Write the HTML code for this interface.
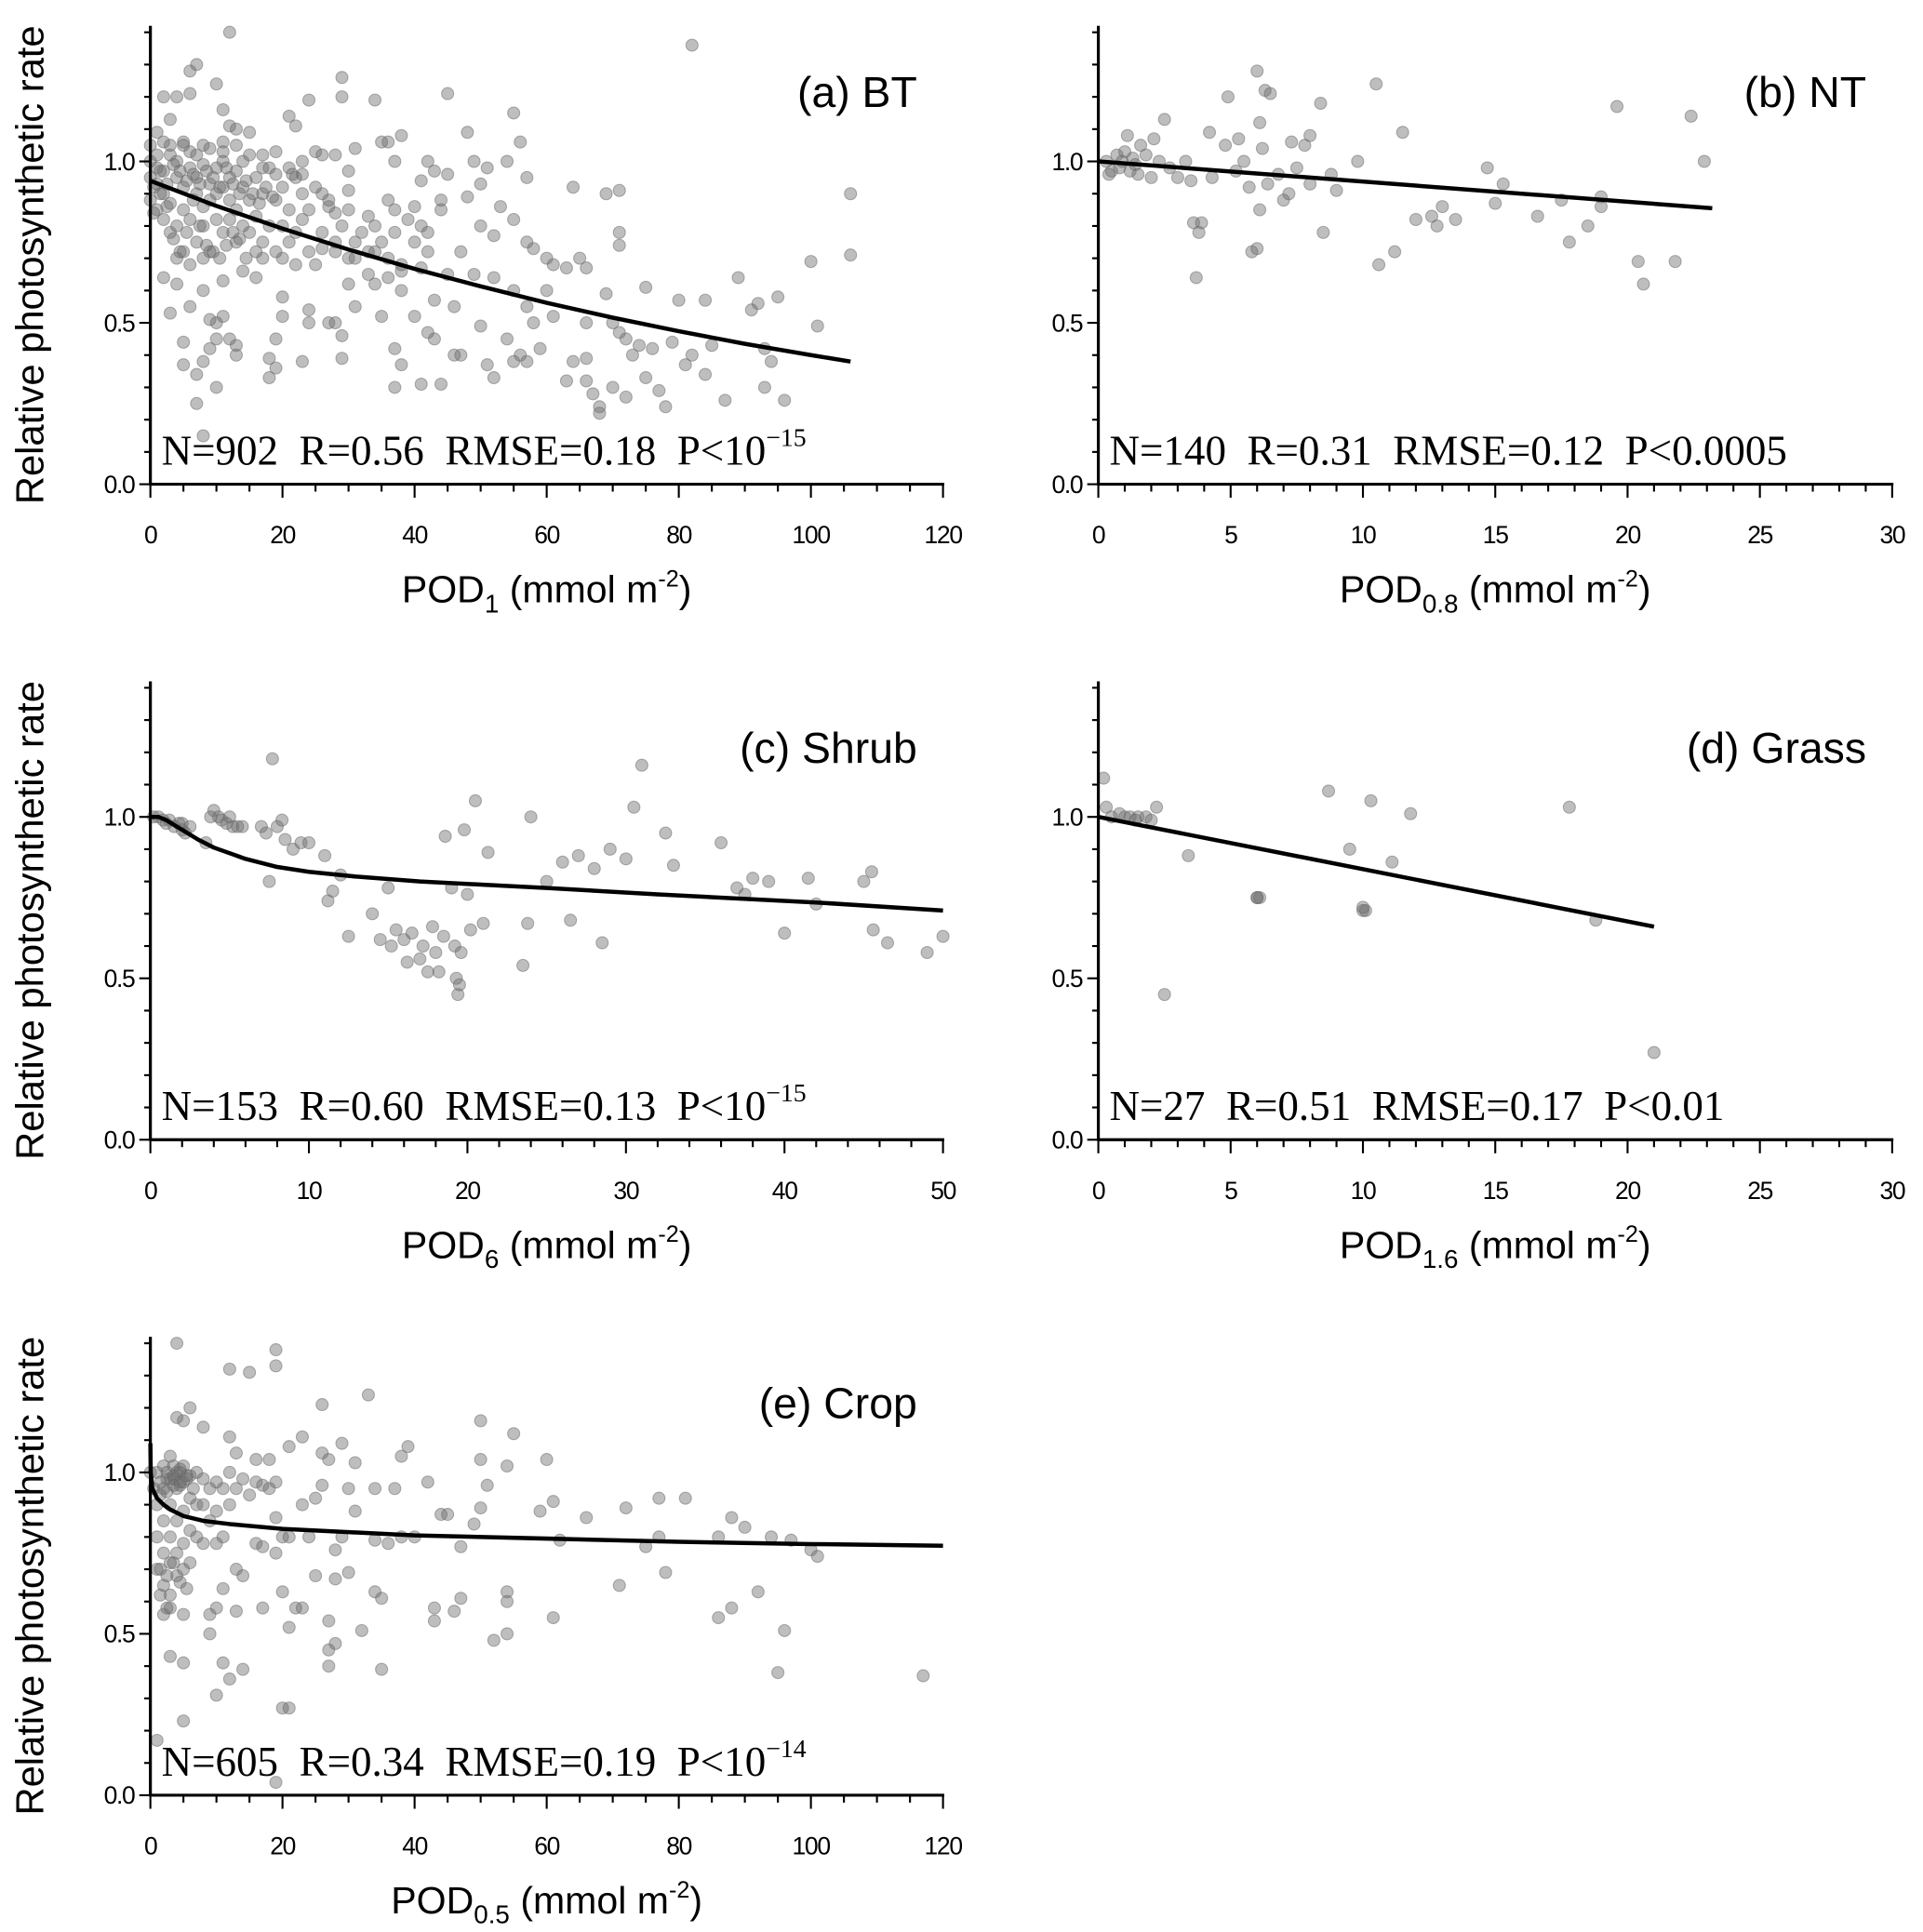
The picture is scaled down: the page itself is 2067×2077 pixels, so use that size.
<!DOCTYPE html>
<html><head><meta charset="utf-8"><style>
html,body{margin:0;padding:0;background:#fff;}
svg{display:block;}
</style></head><body>
<svg id="fig" width="2067" height="2077" viewBox="0 0 1560 1568" preserveAspectRatio="none" xmlns="http://www.w3.org/2000/svg"></svg>
<script>
const NS='http://www.w3.org/2000/svg';
// ---- data arrays ----
const aX=[12,82,6,7,10,2,4,6,29,29,45,24,34,3,11,21,22,12,13,15,55,56,48,38,35,36,31,25,26,28,1,2,5,8,11,17,19,23,37,42,43,49,51,54,57,50,45,30,30,41,64,71,69,106,48,53,36,37,40,44,44,27,28,33,55,50,52,57,58,60,61,63,65,66,71,71,100,106,89,75,69,60,55,57,58,61,66,70,71,72,74,73,76,79,80,84,85,91,92,95,101,93,94,93,96,87,84,82,81,78,77,75,72,70,68,68,67,66,63,64,66,59,56,57,54,55,50,51,52,47,46,43,42,41,38,37,37,44,43,46,40,35,34,31,30,29,29,27,28,24,24,23,20,20,19,19,18,18,12,13,13,11,10,10,9,9,8,7,7,8,10,5,5,3,4,6,8,2,11,14,16,17,20,22,25,26,30,33,36,38,41,42,45,47,49,52,0,0,1,1,2,2,3,3,4,4,5,5,6,6,7,7,8,8,9,9,10,10,11,11,12,12,13,13,14,14,15,15,16,16,17,17,18,18,19,19,20,20,21,21,22,22,23,23,24,25,26,27,28,29,30,31,32,33,34,35,36,37,38,39,40,41,42,3,5,7,9,11,13,1,2,4,6,8,10,12,14,16,6,4,8,3,5,7,9,11,13,15,17,19,21,23,1,0,0,0.5,1.5,2.5,3.5,4.5,5.5,6.5,7.5,8.5,9.5,10.5,11.5,12.5,13.5,14.5,15.5,16.5,17.5,18.5,0.5,1.5,2.5,3.5,4.5,5.5,6.5,7.5,8.5,9.5,10.5,11.5,12.5,13.5,14.5,21.5,24,26,28,31,34,38];
const aY=[1.4,1.36,1.28,1.3,1.24,1.2,1.2,1.21,1.26,1.2,1.21,1.19,1.19,1.13,1.16,1.14,1.11,1.11,1.1,1.09,1.15,1.06,1.09,1.08,1.06,1.06,1.04,1.03,1.02,1.02,1.09,1.06,1.06,1.05,1.06,1.02,1.03,1.0,1.0,1.0,0.97,1.0,0.98,1.0,0.95,0.93,0.96,0.97,0.91,0.94,0.92,0.91,0.9,0.9,0.89,0.86,0.88,0.85,0.86,0.85,0.88,0.86,0.84,0.83,0.82,0.8,0.77,0.75,0.73,0.7,0.68,0.67,0.7,0.67,0.78,0.74,0.69,0.71,0.64,0.61,0.59,0.6,0.6,0.55,0.5,0.52,0.5,0.5,0.47,0.45,0.43,0.4,0.42,0.44,0.57,0.57,0.43,0.54,0.56,0.58,0.49,0.42,0.38,0.3,0.26,0.26,0.34,0.4,0.37,0.24,0.29,0.33,0.27,0.3,0.24,0.22,0.28,0.32,0.32,0.38,0.39,0.42,0.4,0.38,0.45,0.38,0.49,0.37,0.33,0.4,0.4,0.45,0.47,0.31,0.37,0.42,0.3,0.31,0.57,0.55,0.52,0.52,0.62,0.55,0.62,0.46,0.39,0.5,0.5,0.5,0.54,0.38,0.52,0.58,0.45,0.36,0.39,0.33,0.45,0.43,0.4,0.52,0.45,0.5,0.51,0.42,0.38,0.34,0.25,0.15,0.3,0.44,0.37,0.53,0.62,0.55,0.6,0.64,0.63,0.66,0.64,0.7,0.7,0.68,0.68,0.73,0.7,0.65,0.64,0.6,0.67,0.72,0.65,0.72,0.65,0.64,1.0,0.95,0.98,0.93,0.97,0.9,1.02,0.87,0.95,1.0,0.92,0.85,0.98,1.03,0.9,0.95,0.99,0.8,0.93,0.88,0.98,0.82,0.92,1.0,0.95,0.88,0.97,0.85,0.92,1.0,0.88,0.78,0.95,0.83,0.9,0.75,0.98,0.8,0.88,0.72,0.92,0.8,0.85,0.75,0.95,0.78,0.9,0.82,0.85,0.92,0.78,0.88,0.75,0.8,0.85,0.75,0.78,0.72,0.8,0.75,0.7,0.78,0.68,0.82,0.75,0.8,0.78,0.78,0.72,0.75,0.72,0.78,0.75,0.85,0.82,0.8,0.82,0.86,0.9,0.82,0.8,0.72,0.68,0.7,0.7,1.05,1.05,1.02,1.04,1.03,1.05,1.02,0.98,0.96,0.98,0.96,1.02,0.88,1.05,0.92,0.97,0.93,0.99,0.97,0.94,0.96,0.93,0.97,0.95,0.92,0.98,0.93,0.9,0.94,0.9,0.87,0.92,0.89,0.84,0.9,0.86,0.76,0.72,0.78,0.88,0.8,0.74,0.72,0.7,0.74,0.78,0.76,0.7,0.96,0.72,0.9,0.72,0.7,0.72,0.66];
const bX=[0.3,0.5,0.7,0.8,1.0,1.1,1.2,1.3,1.4,1.6,1.8,2.0,2.1,0.4,0.9,1.5,2.3,2.5,2.7,3.0,3.3,3.5,3.6,3.8,3.9,3.7,4.2,4.3,4.8,4.9,5.3,5.2,5.5,5.7,5.8,6.0,6.0,6.1,6.2,6.3,6.5,6.1,6.4,6.8,7.0,7.3,7.5,7.8,8.0,8.0,8.4,8.5,8.8,9.0,9.8,10.5,10.6,11.2,11.5,12.0,12.6,12.8,13.0,13.5,14.7,15.0,15.3,16.6,17.5,17.8,18.5,19.0,19.6,20.4,20.6,21.8,22.4,22.9,19.0,7.2];
const bY=[1.0,0.97,1.02,0.98,1.03,1.08,0.97,1.01,0.99,1.05,1.02,0.95,1.07,0.96,1.0,0.96,1.0,1.13,0.98,0.95,1.0,0.94,0.81,0.78,0.81,0.64,1.09,0.95,1.05,1.2,1.07,0.97,1.0,0.92,0.72,0.73,1.28,1.12,1.04,1.22,1.21,0.85,0.93,0.96,0.88,1.06,0.98,1.05,1.08,0.93,1.18,0.78,0.96,0.91,1.0,1.24,0.68,0.72,1.09,0.82,0.83,0.8,0.86,0.82,0.98,0.87,0.93,0.83,0.88,0.75,0.8,0.89,1.17,0.69,0.62,0.69,1.14,1.0,0.86,0.9];
const cX=[0.2,0.5,0.8,1.0,1.2,1.5,1.8,2.0,2.2,2.0,4.0,4.3,4.5,4.8,5.0,5.2,5.5,3.5,7.0,7.3,7.5,7.7,8.0,8.3,8.5,9.0,9.5,10.0,11.0,11.2,11.5,12.0,12.5,14.0,14.5,15.0,15.2,15.5,16.0,16.2,16.5,17.0,17.2,17.5,17.8,18.0,18.2,18.5,18.6,19.0,19.2,19.3,19.4,19.5,19.6,19.8,20.0,20.2,20.5,21.0,21.3,23.5,23.8,24.0,25.0,26.0,26.5,27.0,28.0,28.5,29.0,30.0,30.5,31.0,32.5,33.0,36.0,37.0,37.5,38.0,39.0,40.0,41.5,42.0,45.0,45.5,45.6,46.5,49.0,50.0,3.8,5.8,2.5];
const cY=[1.0,1.0,0.99,0.98,0.99,0.97,0.98,0.96,0.95,0.98,1.02,1.0,0.99,0.98,1.0,0.97,0.97,0.92,0.97,0.95,0.8,1.18,0.97,0.99,0.93,0.9,0.92,0.92,0.88,0.74,0.77,0.82,0.63,0.7,0.62,0.78,0.6,0.65,0.62,0.55,0.64,0.56,0.6,0.52,0.66,0.58,0.52,0.63,0.94,0.78,0.6,0.5,0.45,0.48,0.58,0.96,0.76,0.65,1.05,0.67,0.89,0.54,0.67,1.0,0.8,0.86,0.68,0.88,0.84,0.61,0.9,0.87,1.03,1.16,0.95,0.85,0.92,0.78,0.76,0.81,0.8,0.64,0.81,0.73,0.8,0.83,0.65,0.61,0.58,0.63,1.0,0.97,0.97];
const dX=[0.2,0.3,1.0,1.2,1.5,1.8,2.2,2.5,3.4,6.0,6.0,8.7,9.5,10.0,10.1,10.3,11.1,11.8,17.8,18.8,21.0,0.5,2.0,1.4,0.8,6.1,10.0];
const dY=[1.12,1.03,1.0,1.0,1.0,1.0,1.03,0.45,0.88,0.75,0.75,1.08,0.9,0.71,0.71,1.05,0.86,1.01,1.03,0.68,0.27,1.0,0.99,0.99,1.01,0.75,0.72];
const eX=[4,19,19,12,15,33,26,50,55,6,5,4,8,12,23,21,29,39,38,26,50,54,60,31,13,16,18,27,42,51,34,37,61,72,77,81,59,66,88,90,94,97,86,100,101,77,62,78,75,71,92,88,86,96,95,117,61,54,54,52,54,47,46,43,43,47,40,38,36,34,44,45,49,50,35,34,35,32,30,29,28,28,28,27,27,27,24,25,23,22,21,20,21,19,20,19,20,21,17,16,17,13,14,13,11,10,9,9,10,11,12,14,3,5,5,1,2,3,5,23,25,30,31,26,19,19,0,0.5,1,1,1,1,1.5,2,2,2,2,2,2.5,3,3,3,3,3,3,4,4,4,4,4,5,5,5,5,5,6,6,6,6,7,7,7,8,8,8,9,9,10,10,10,11,11,12,12,13,14,15,16,17,18,3.5,4.5,3.5,4.5,2.5,5.5,1.5,2.5,3.5,4.5,1.5,2.5,3.5,4.5,5.5,6.5,1.5,2.5,3.5,4.5,5.5];
const eY=[1.4,1.38,1.33,1.32,1.31,1.24,1.21,1.16,1.12,1.2,1.16,1.17,1.14,1.11,1.11,1.08,1.09,1.08,1.05,1.06,1.04,1.02,1.04,1.03,1.06,1.04,1.04,1.04,0.97,0.96,0.95,0.95,0.91,0.89,0.92,0.92,0.88,0.86,0.86,0.83,0.8,0.79,0.8,0.76,0.74,0.8,0.79,0.69,0.77,0.65,0.63,0.58,0.55,0.51,0.38,0.37,0.55,0.63,0.6,0.48,0.5,0.61,0.57,0.58,0.54,0.77,0.8,0.8,0.78,0.79,0.87,0.87,0.84,0.89,0.61,0.63,0.39,0.51,0.69,0.8,0.76,0.67,0.47,0.54,0.45,0.4,0.8,0.68,0.58,0.58,0.52,0.27,0.27,0.04,0.63,0.75,0.8,0.8,0.58,0.78,0.77,0.7,0.68,0.57,0.64,0.58,0.5,0.56,0.31,0.41,0.36,0.39,0.43,0.41,0.23,0.17,0.56,0.58,0.56,0.9,0.92,0.95,0.88,0.96,0.86,0.97,1.0,0.95,1.0,0.9,0.8,0.7,0.62,1.02,0.95,0.85,0.75,0.65,0.58,1.05,0.98,0.9,0.8,0.72,0.62,1.0,0.95,0.85,0.75,0.68,1.02,0.97,0.88,0.78,0.7,0.99,0.92,0.82,0.72,1.0,0.9,0.8,0.98,0.9,0.78,0.95,0.85,0.97,0.88,0.78,0.95,0.8,1.0,0.9,0.95,0.98,0.93,0.97,0.96,0.95,0.98,1.0,1.02,0.96,0.98,0.99,0.97,1.0,0.99,0.97,0.93,0.94,0.96,1.01,0.98,0.95,0.7,0.68,0.72,0.66,0.64];
// fitted curves (sampled)
const aFitX=[0,10,20,30,40,50,60,70,80,90,100,106];
const aFitY=[0.94,0.862,0.792,0.727,0.667,0.613,0.562,0.516,0.474,0.435,0.4,0.38];
const bFitX=[0,23.2];
const bFitY=[1.0,0.855];
const cFitX=[0,0.5,1,2,3,4,6,8,10,13,17,21,25,32,42,50];
const cFitY=[1.0,1.0,0.99,0.96,0.93,0.905,0.87,0.845,0.83,0.815,0.8,0.79,0.78,0.76,0.735,0.71];
const dFitX=[0,21];
const dFitY=[1.0,0.66];
const eFitX=[0,0.05,0.3,1,2,3,5,8,12,20,30,40,60,80,100,120];
const eFitY=[1.09,1.0,0.95,0.92,0.9,0.885,0.865,0.85,0.84,0.825,0.815,0.805,0.795,0.785,0.778,0.773];

const panels=[
 {id:'a',x0:122,x1:765,y0:393,xmax:120,xmaj:20,xmin:5,px:aX,py:aY,fx:aFitX,fy:aFitY,title:'(a) BT',sub:'1',yt:true,stats:['N=902  R=0.56  RMSE=0.18  P<10','−15']},
 {id:'b',x0:891,x1:1535,y0:393,xmax:30,xmaj:5,xmin:1,px:bX,py:bY,fx:bFitX,fy:bFitY,title:'(b) NT',sub:'0.8',yt:false,stats:['N=140  R=0.31  RMSE=0.12  P<0.0005','']},
 {id:'c',x0:122,x1:765,y0:925,xmax:50,xmaj:10,xmin:2,px:cX,py:cY,fx:cFitX,fy:cFitY,title:'(c) Shrub',sub:'6',yt:true,stats:['N=153  R=0.60  RMSE=0.13  P<10','−15']},
 {id:'d',x0:891,x1:1535,y0:925,xmax:30,xmaj:5,xmin:1,px:dX,py:dY,fx:dFitX,fy:dFitY,title:'(d) Grass',sub:'1.6',yt:false,stats:['N=27  R=0.51  RMSE=0.17  P<0.01','']},
 {id:'e',x0:122,x1:765,y0:1457,xmax:120,xmaj:20,xmin:5,px:eX,py:eY,fx:eFitX,fy:eFitY,title:'(e) Crop',sub:'0.5',yt:true,stats:['N=605  R=0.34  RMSE=0.19  P<10','−14']}
];
const svg=document.getElementById('fig');
function mk(tag,attrs,parent,text){const e=document.createElementNS(NS,tag);for(const k in attrs)e.setAttribute(k,attrs[k]);if(text!==undefined)e.textContent=text;(parent||svg).appendChild(e);return e;}
const YU=262;
panels.forEach(p=>{
  const g=mk('g',{});
  
  
  const sx=v=>p.x0+(p.x1-p.x0)*v/p.xmax;
  const sy=v=>p.y0-YU*v;
  const pts=mk('g',{},g);
  
  
  for(let i=0;i<p.px.length;i++){
    const c=mk('circle',{cx:sx(p.px[i]),cy:sy(p.py[i]),r:4.9,fill:'#6e6e6e','fill-opacity':0.45,stroke:'#666','stroke-opacity':0.5,'stroke-width':0.8},pts);
    
    
  }
  const d=p.fx.map((x,i)=>(i?'L':'M')+sx(x).toFixed(2)+','+sy(p.fy[i]).toFixed(2)).join(' ');
  const fl=mk('path',{d:d,fill:'none',stroke:'#000','stroke-width':3.4,'stroke-linejoin':'round'},g);
  
  
  const ax=mk('g',{stroke:'#000','stroke-width':1.6},g);
  
  
  mk('line',{x1:p.x0-1,y1:p.y0,x2:p.x1+1,y2:p.y0,'stroke-width':2.4},ax);
  mk('line',{x1:p.x0,y1:p.y0,x2:p.x0,y2:sy(1.42),'stroke-width':2.4},ax);
  for(let v=0;v<=1.4001;v+=0.1){const maj=Math.abs(v*2-Math.round(v*2))<1e-6;mk('line',{x1:p.x0,y1:sy(v),x2:p.x0-(maj?9:5),y2:sy(v)},ax);}
  for(let v=0;v<=p.xmax+1e-6;v+=p.xmin){const maj=Math.abs(v/p.xmaj-Math.round(v/p.xmaj))<1e-6;mk('line',{x1:sx(v),y1:p.y0,x2:sx(v),y2:p.y0+(maj?11:6)},ax);}
  const tl=mk('g',{'font-family':'Liberation Sans, sans-serif','font-size':20,fill:'#000'},g);
  
  
  ['0.0','0.5','1.0'].forEach((t,i)=>mk('text',{x:p.x0-13,y:sy(i*0.5)+7,'text-anchor':'end',style:'letter-spacing:-1px'},tl,t));
  for(let v=0;v<=p.xmax+1e-6;v+=p.xmaj)mk('text',{x:sx(v),y:p.y0+48,'text-anchor':'middle',style:'letter-spacing:-1px'},tl,String(v));
  const xt=mk('text',{x:(p.x0+p.x1)/2,y:p.y0+96,'text-anchor':'middle','font-family':'Liberation Sans, sans-serif','font-size':31},g);
  
  
  mk('tspan',{},xt,'POD');
  mk('tspan',{'font-size':21,dy:8},xt,p.sub);
  mk('tspan',{dy:-8},xt,' (mmol m');
  mk('tspan',{'font-size':19,dy:-13},xt,'-2');
  mk('tspan',{dy:13},xt,')');
  if(p.yt){
    const yt=mk('text',{x:0,y:0,transform:'translate('+(p.x0-87)+','+(p.y0-178)+') rotate(-90)','text-anchor':'middle','font-family':'Liberation Sans, sans-serif','font-size':31.5},g,'Relative photosynthetic rate');
    
    
  }
  const pt=mk('text',{x:p.x1-21,y:p.y0-306,'text-anchor':'end','font-family':'Liberation Sans, sans-serif','font-size':35},g,p.title);
  
  
  const st=mk('text',{x:p.x0+9,y:p.y0-16,'font-family':'Liberation Serif, serif','font-size':34,style:'white-space:pre'},g);
  
  
  mk('tspan',{},st,p.stats[0]);
  if(p.stats[1])mk('tspan',{'font-size':21,dy:-15},st,p.stats[1]);
});
</script>
</body></html>
